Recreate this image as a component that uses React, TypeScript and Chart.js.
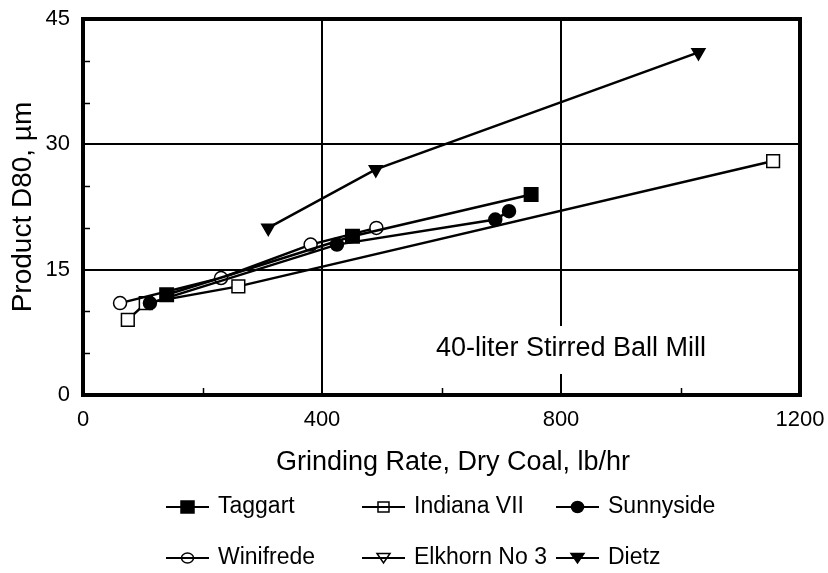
import React, { useEffect, useRef } from "react";
import { Chart, registerables } from "chart.js";

Chart.register(...registerables);

// ---- data ----
const taggartX = [140, 451, 750];
const taggartY = [12, 19, 24];
const indianaX = [75, 105, 260, 1155];
const indianaY = [9, 11, 13, 28];
const sunnysideX = [112, 425, 690, 713];
const sunnysideY = [11, 18, 21, 22];
const winifredeX = [62, 231, 381, 491];
const winifredeY = [11, 14, 18, 20];
const elkhornX: number[] = [];
const elkhornY: number[] = [];
const dietzX = [310, 490, 1030];
const dietzY = [20, 27, 41];

const xMinorTicks = [200, 600, 1000];
const yMinorTicks = [5, 10, 20, 25, 35, 40];

const xTitle = "Grinding Rate, Dry Coal, lb/hr";
const yTitle = "Product D80, µm";
const annotationText = "40-liter Stirred Ball Mill";

const FONT = "'Liberation Sans', Arial, Helvetica, sans-serif";

type LegendItem = { label: string; marker: string; filled: boolean; col: number; row: number };
const legendItems: LegendItem[] = [
  { label: "Taggart", marker: "rect", filled: true, col: 0, row: 0 },
  { label: "Indiana VII", marker: "rect", filled: false, col: 1, row: 0 },
  { label: "Sunnyside", marker: "circle", filled: true, col: 2, row: 0 },
  { label: "Winifrede", marker: "circle", filled: false, col: 0, row: 1 },
  { label: "Elkhorn No 3", marker: "triangle", filled: false, col: 1, row: 1 },
  { label: "Dietz", marker: "triangle", filled: true, col: 2, row: 1 },
];

const mk = (xs: number[], ys: number[]) => xs.map((x, i) => ({ x, y: ys[i] }));

function drawMarker(ctx: CanvasRenderingContext2D, kind: string, filled: boolean, x: number, y: number) {
  ctx.save();
  ctx.lineWidth = 1.5;
  ctx.strokeStyle = "#000";
  ctx.fillStyle = "#000";
  ctx.beginPath();
  if (kind === "rect") {
    const s = filled ? 13 : 11;
    ctx.rect(x - s / 2, y - (filled ? 6 : 5), s, filled ? 12 : 10);
  } else if (kind === "circle") {
    ctx.ellipse(x, y, 6, filled ? 5.5 : 5, 0, 0, Math.PI * 2);
  } else {
    ctx.moveTo(x - 6.5, y - 4.5);
    ctx.lineTo(x + 6.5, y - 4.5);
    ctx.lineTo(x, y + 5);
    ctx.closePath();
  }
  if (filled) ctx.fill();
  ctx.stroke();
  ctx.restore();
}

const decoPlugin = {
  id: "deco",
  beforeDatasetsDraw(chart: any) {
    const { ctx, chartArea: a } = chart;
    ctx.save();
    ctx.font = `27px ${FONT}`;
    const tw = ctx.measureText(annotationText).width;
    const tx = a.left + 353;
    const ty = a.top + 330;
    ctx.fillStyle = "#fff";
    ctx.fillRect(tx - 8, ty - 23, tw + 16, 48);
    ctx.fillStyle = "#000";
    ctx.textBaseline = "middle";
    ctx.textAlign = "left";
    ctx.fillText(annotationText, tx, ty);
    ctx.restore();
  },
  afterDatasetsDraw(chart: any) {
    const { ctx, chartArea: a, scales } = chart;
    ctx.save();
    ctx.strokeStyle = "#000";
    ctx.lineWidth = 1.5;
    ctx.beginPath();
    for (const v of xMinorTicks) {
      const px = Math.round(scales.x.getPixelForValue(v)) + 0.5;
      ctx.moveTo(px, a.bottom);
      ctx.lineTo(px, a.bottom - 7);
    }
    for (const v of yMinorTicks) {
      const py = Math.round(scales.y.getPixelForValue(v)) + 0.5;
      ctx.moveTo(a.left, py);
      ctx.lineTo(a.left + 7, py);
    }
    ctx.stroke();
    ctx.lineWidth = 4;
    ctx.strokeRect(a.left, a.top, a.right - a.left, a.bottom - a.top);
    ctx.restore();
  },
  afterDraw(chart: any) {
    const { ctx } = chart;
    ctx.save();
    // x-axis title
    ctx.font = `27px ${FONT}`;
    ctx.fillStyle = "#000";
    ctx.textBaseline = "middle";
    ctx.textAlign = "center";
    ctx.fillText(xTitle, 453, 463);
    // legend
    const colX = [166, 362, 556];
    const rowY = [507, 558];
    ctx.font = `23px ${FONT}`;
    ctx.textAlign = "left";
    for (const it of legendItems) {
      const x0 = colX[it.col];
      const y = rowY[it.row];
      ctx.strokeStyle = "#000";
      ctx.lineWidth = 2;
      ctx.beginPath();
      ctx.moveTo(x0, y);
      ctx.lineTo(x0 + 43, y);
      ctx.stroke();
      drawMarker(ctx, it.marker, it.filled, x0 + 21.5, y);
      ctx.fillStyle = "#000";
      ctx.fillText(it.label, x0 + 52, y);
    }
    ctx.restore();
  },
};

export default function App() {
  const ref = useRef<HTMLCanvasElement>(null);
  useEffect(() => {
    const canvas = ref.current!;
    Chart.defaults.font.family = FONT;
    Chart.defaults.color = "#000";
    const base = {
      borderColor: "#000",
      borderWidth: 2.5,
      showLine: true,
      pointBorderColor: "#000",
      pointBorderWidth: 1.5,
      pointHoverRadius: 0,
    };
    const chart = new Chart(canvas, {
      type: "scatter",
      data: {
        datasets: [
          { ...base, label: "Taggart", data: mk(taggartX, taggartY), pointStyle: "rect", pointRadius: 9.5, pointBackgroundColor: "#000", order: 0 },
          { ...base, label: "Indiana VII", data: mk(indianaX, indianaY), pointStyle: "rect", pointRadius: 9, pointBackgroundColor: "#fff", order: 1 },
          { ...base, label: "Sunnyside", data: mk(sunnysideX, sunnysideY), pointStyle: "circle", pointRadius: 6.5, pointBackgroundColor: "#000", order: 0 },
          { ...base, label: "Winifrede", data: mk(winifredeX, winifredeY), pointStyle: "circle", pointRadius: 6.5, pointBackgroundColor: "#fff", order: 0 },
          { ...base, label: "Elkhorn No 3", data: mk(elkhornX, elkhornY), pointStyle: "triangle", rotation: 180, pointRadius: 7.5, pointBackgroundColor: "#fff", order: 0 },
          { ...base, label: "Dietz", data: mk(dietzX, dietzY), pointStyle: "triangle", rotation: 180, pointRadius: 7.5, pointBackgroundColor: "#000", order: 0 },
        ] as any,
      },
      options: {
        animation: false,
        responsive: false,
        events: [],
        layout: { padding: { top: 19, right: 28, left: 0, bottom: 0 } },
        plugins: { legend: { display: false }, tooltip: { enabled: false } },
        scales: {
          x: {
            type: "linear",
            min: 0,
            max: 1200,
            ticks: { stepSize: 400, padding: 12, font: { size: 22 }, color: "#000", format: { useGrouping: false } },
            grid: { color: "#000", lineWidth: 2, drawTicks: false },
            border: { display: false },
            title: { display: false },
            afterFit: (s: any) => { s.height = 178; s.paddingLeft = 0; s.paddingRight = 0; },
          },
          y: {
            type: "linear",
            min: 0,
            max: 45,
            ticks: { stepSize: 15, padding: 13, font: { size: 22 }, color: "#000" },
            grid: { color: "#000", lineWidth: 2, drawTicks: false },
            border: { display: false },
            title: { display: true, text: yTitle, font: { size: 28 }, color: "#000", padding: { top: 6, bottom: 0 } },
            afterFit: (s: any) => { s.width = 83; s.paddingTop = 0; s.paddingBottom = 0; },
          },
        },
      },
      plugins: [decoPlugin],
    });
    return () => chart.destroy();
  }, []);
  return (
    <div style={{ position: "fixed", left: 0, top: 0, width: 828, height: 573, background: "#fff" }}>
      <canvas ref={ref} width={828} height={573} style={{ display: "block" }} />
    </div>
  );
}
